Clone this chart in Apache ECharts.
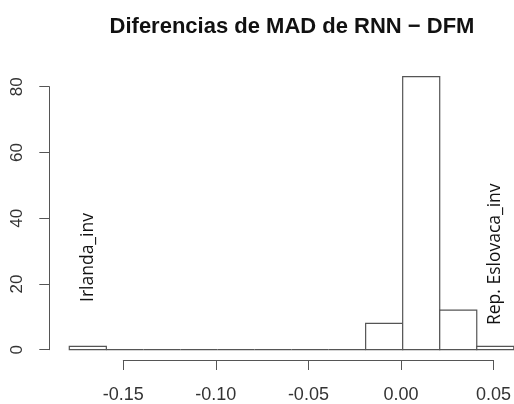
<!DOCTYPE html>
<html>
<head>
<meta charset="utf-8">
<script src="https://cdn.jsdelivr.net/npm/echarts@6/dist/echarts.min.js"></script>
<style>
  html, body { margin: 0; padding: 0; background: #fff; }
  #chart { width: 514px; height: 404px; }
</style>
</head>
<body>
<div id="chart"></div>
<script>
// Histogram of MAD differences (RNN - DFM), bins of width 0.02
const binEdges = [-0.18, -0.16, -0.14, -0.12, -0.10, -0.08, -0.06, -0.04, -0.02, 0.00, 0.02, 0.04, 0.06];
const counts   = [1, 0, 0, 0, 0, 0, 0, 0, 8, 83, 12, 1];

// Labelled outliers (text starts at the given point and runs upward)
const noteNames = ['Irlanda_inv', 'Rep. Eslovaca_inv'];
const noteX     = [-0.17, 0.05];
const noteY     = [14.5, 7.5];

const xTicks = [-0.15, -0.10, -0.05, 0.00, 0.05];
const yTicks = [0, 20, 40, 60, 80];

const bins = counts.map((c, i) => [binEdges[i], binEdges[i + 1], c]);
const notes = noteNames.map((n, i) => [noteX[i], noteY[i], n]);

const axisGrey = '#555';
const textCol = '#333';

const chart = echarts.init(document.getElementById('chart'), null, { renderer: 'canvas' });

chart.setOption({
  animation: false,
  title: {
    text: 'Diferencias de MAD de RNN \u2212 DFM',
    left: 287, top: 11, textAlign: 'center',
    textStyle: { fontFamily: 'Liberation Sans, Arial, sans-serif', fontSize: 22, fontWeight: 'bold', color: '#111' }
  },
  grid: [
    // data region
    { left: 69.3, right: 0.2, top: 70.05, bottom: 54.3 },
    // x axis, drawn below the data
    { left: 123.3, right: 19, top: 70.05, bottom: 42.3 },
    // y axis, drawn left of the data
    { left: 49.3, width: 10, top: 86.7, bottom: 54.3 }
  ],
  xAxis: [
    { gridIndex: 0, type: 'value', min: -0.18, max: 0.06, show: false },
    {
      gridIndex: 1, type: 'value', min: xTicks[0], max: xTicks[xTicks.length - 1], interval: 0.05,
      axisLine: { show: true, lineStyle: { color: axisGrey, width: 1 } },
      axisTick: { show: true, length: 10, inside: false, lineStyle: { color: axisGrey } },
      splitLine: { show: false },
      axisLabel: {
        color: textCol, fontSize: 18, margin: 26,
        fontFamily: 'Liberation Sans, Arial, sans-serif',
        showMinLabel: true, showMaxLabel: true,
        formatter: v => v.toFixed(2)
      }
    },
    { gridIndex: 2, type: 'value', show: false, min: 0, max: 1 }
  ],
  yAxis: [
    { gridIndex: 0, type: 'value', min: 0, max: 85, show: false },
    { gridIndex: 1, type: 'value', min: 0, max: 1, show: false },
    {
      gridIndex: 2, type: 'value', min: yTicks[0], max: yTicks[yTicks.length - 1], interval: 20,
      position: 'left',
      axisLine: { show: true, lineStyle: { color: axisGrey, width: 1 } },
      axisTick: { show: true, length: 10, lineStyle: { color: axisGrey } },
      splitLine: { show: false },
      axisLabel: {
        color: textCol, fontSize: 17, margin: 23, rotate: 90,
        fontFamily: 'Liberation Sans, Arial, sans-serif',
        showMinLabel: true, showMaxLabel: true
      }
    }
  ],
  series: [
    {
      type: 'custom',
      xAxisIndex: 0, yAxisIndex: 0,
      data: bins,
      renderItem: function (params, api) {
        const p0 = api.coord([api.value(0), 0]);
        const p1 = api.coord([api.value(1), api.value(2)]);
        return {
          type: 'rect',
          shape: { x: p0[0], y: p1[1], width: p1[0] - p0[0], height: p0[1] - p1[1] },
          style: { fill: '#fff', stroke: axisGrey, lineWidth: 1.2 }
        };
      }
    },
    {
      type: 'custom',
      xAxisIndex: 0, yAxisIndex: 0,
      data: notes,
      renderItem: function (params, api) {
        const p = api.coord([api.value(0), api.value(1)]);
        return {
          type: 'text',
          x: p[0], y: p[1], rotation: Math.PI / 2,
          style: {
            text: notes[params.dataIndex][2],
            fill: '#111',
            font: '17.5px "Open Sans", sans-serif',
            align: 'left', verticalAlign: 'middle'
          }
        };
      }
    }
  ]
});
</script>
</body>
</html>
